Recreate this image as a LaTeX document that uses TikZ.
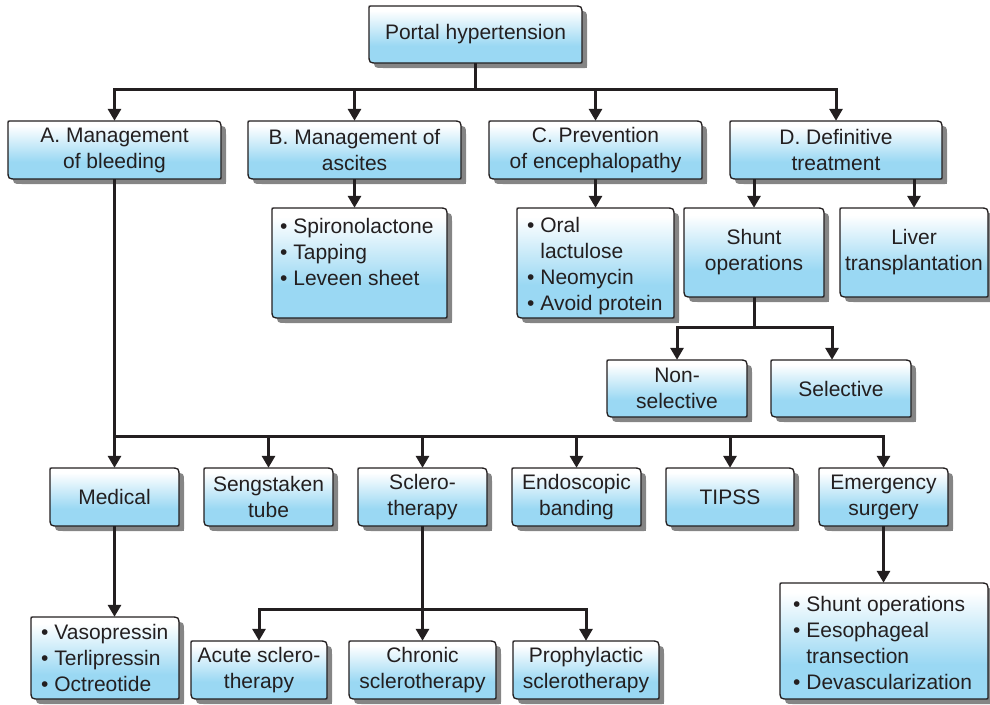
\documentclass[tikz,border=0pt]{standalone}
\usepackage{fontspec}
\setmainfont{Liberation Sans}
\usetikzlibrary{arrows.meta,calc}
\definecolor{ink}{HTML}{231F20}
\definecolor{boxblue}{HTML}{9AD8F3}
\definecolor{shad}{HTML}{858585}
\pgfdeclareverticalshading{boxsh}{100bp}{color(0bp)=(boxblue); color(40bp)=(boxblue); color(71bp)=(white); color(100bp)=(white)}
\tikzset{
  ln/.style={draw=ink, line width=3pt},
  arr/.style={ln, -{Triangle[length=12pt,width=13pt]}},
  txt/.style={text=ink, font=\fontsize{21}{26}\selectfont, align=center, inner sep=0pt},
  lst/.style={txt, align=left, anchor=north west},
  boxline/.style={draw=ink, line width=1.3pt},
}
\newcommand\bshape[4]{(#1+2,#2) -- (#3-9,#2) .. controls (#3,#2) .. (#3,#2+9) -- (#3,#4-2) .. controls (#3,#4) .. (#3-2,#4) -- (#1+9,#4) .. controls (#1,#4) .. (#1,#4-9) -- (#1,#2+2) .. controls (#1,#2) .. (#1+2,#2) -- cycle}
\newcommand\bx[6]{%
  \fill[shad] \bshape{#1+5}{#2+5}{#3+5}{#4+5};
  \shade[shading=boxsh] \bshape{#1}{#2}{#3}{#4};
  \draw[boxline] \bshape{#1}{#2}{#3}{#4};
  \node[txt, minimum width={(#3-#1)*1pt}, minimum height={(#4-#2)*1pt}] (#5) at ({(#1+#3)/2},{(#2+#4)/2}) {#6};}
\begin{document}
\begin{tikzpicture}[x=1pt,y=-1pt]
\useasboundingbox (0,0) rectangle (990,704);
% level 0/1
\bx{369}{6}{582}{63}{top}{Portal hypertension}
\bx{8}{121}{221}{179}{A}{A. Management\\of bleeding}
\bx{248}{121}{461}{179}{B}{B. Management of\\ascites}
\bx{489}{121}{702}{179}{C}{C. Prevention\\of encephalopathy}
\bx{730}{121}{942}{179}{D}{D. Definitive\\treatment}
% level 2
\bx{272}{208}{447}{318}{Bl}{}
\node[lst] (Blt) at (280,218) {• Spironolactone\\• Tapping\\• Leveen sheet};
\bx{517}{208}{674}{318}{Cl}{}
\node[lst] (Clt) at (527,217) {• Oral\\\hphantom{• }lactulose\\• Neomycin\\• Avoid protein};
\bx{684}{208}{824}{297}{shunt}{Shunt\\operations}
\bx{840}{208}{988}{297}{liver}{Liver\\transplantation}
\bx{607}{360}{747}{417}{nonsel}{Non-\\selective}
\bx{771}{360}{911}{417}{sel}{Selective}
% bleeding options
\bx{50}{468}{179}{526}{med}{Medical}
\bx{204}{468}{333}{526}{seng}{Sengstaken\\tube}
\bx{358}{468}{487}{526}{scl}{Sclero-\\therapy}
\bx{512}{468}{641}{526}{endo}{Endoscopic\\banding}
\bx{666}{468}{794}{526}{tipss}{TIPSS}
\bx{819}{468}{948}{526}{emer}{Emergency\\surgery}
% bottom
\bx{31}{617}{179}{699}{medl}{}
\node[lst] (medlt) at (41,624) {• Vasopressin\\• Terlipressin\\• Octreotide};
\bx{191}{641}{327}{699}{acute}{Acute sclero-\\therapy}
\bx{349}{641}{496}{699}{chron}{Chronic\\sclerotherapy}
\bx{513}{641}{659}{699}{proph}{Prophylactic\\sclerotherapy}
\bx{780}{583}{988}{699}{emerl}{}
\node[lst] (emerlt) at (793,596) {• Shunt operations\\• Eesophageal\\\hphantom{• }transection\\• Devascularization};
% connectors
\coordinate (tj) at ($(top.south)+(0,26)$);
\draw[ln] (top.south) -- (tj);
\draw[arr] (tj) -| (A.north);
\draw[arr] (tj) -| (B.north);
\draw[arr] (tj) -| (C.north);
\draw[arr] (tj) -| (D.north);
\draw[arr] (B.south) -- (B.south |- Bl.north);
\draw[arr] (C.south) -- (C.south |- Cl.north);
\draw[arr] (D.south -| shunt.north) -- (shunt.north);
\draw[arr] (D.south -| liver.north) -- (liver.north);
\coordinate (sj) at ($(shunt.south)+(0,30)$);
\draw[ln] (shunt.south) -- (sj);
\draw[arr] (sj) -| (nonsel.north);
\draw[arr] (sj) -| ([xshift=-9pt]sel.north);
\coordinate (aj) at ($(A.south)+(0,257)$);
\draw[arr] (A.south) -- (med.north);
\draw[arr] (aj) -| (seng.north);
\draw[arr] (aj) -| (scl.north);
\draw[arr] (aj) -| (endo.north);
\draw[arr] (aj) -| (tipss.north);
\draw[arr] (aj) -| (emer.north);
\draw[arr] (med.south) -- (med.south |- medl.north);
\coordinate (cj) at ($(scl.south)+(0,83)$);
\draw[arr] (scl.south) -- (chron.north);
\draw[arr] (cj) -| (acute.north);
\draw[arr] (cj) -| (proph.north);
\draw[arr] (emer.south) -- (emer.south |- emerl.north);
\end{tikzpicture}
\end{document}
